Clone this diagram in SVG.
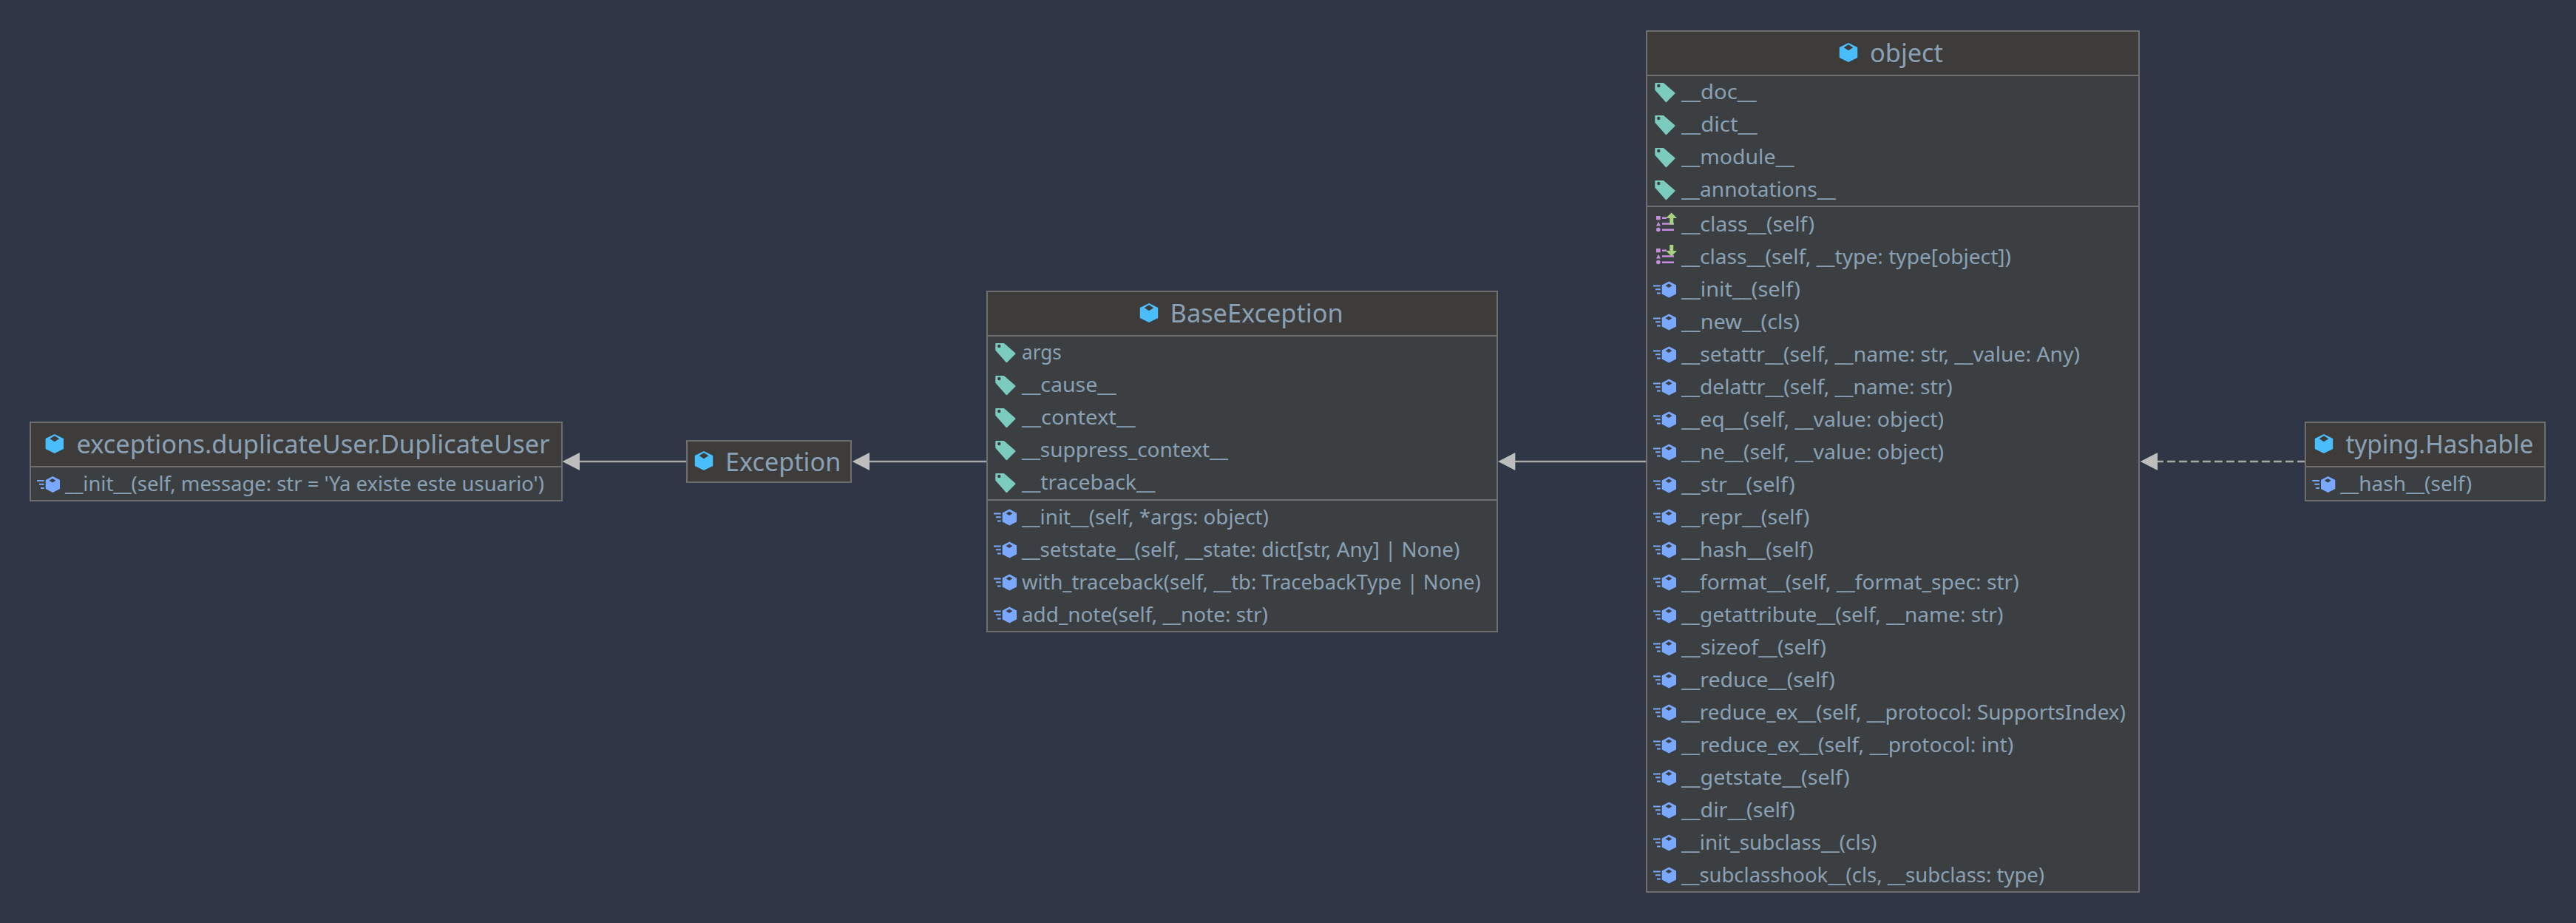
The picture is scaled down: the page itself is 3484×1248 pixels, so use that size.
<svg xmlns="http://www.w3.org/2000/svg" width="3484" height="1248" viewBox="0 0 3484 1248">
<style>
text{font-family:"Noto Sans","Open Sans","DejaVu Sans",sans-serif;fill:#8aa1b5}
.t{font-size:35px}
.r{font-size:28px}
.box{fill:#3c3f41;stroke:#6e6e6e;stroke-width:2}
.head{fill:#3d3c3b}
.sep{stroke:#6e6e6e;stroke-width:2;fill:none}
.edge{stroke:#a8a8a8;stroke-width:2.5;fill:none}
.dash{stroke-dasharray:11 5}
.hd{fill:#bdbdbd}
</style>
<defs>
<g id="cube"><path d="M0,-13 L12.2,-7 V7 L0,13 L-12.2,7 V-7 Z" fill="#4abdfc"/><path d="M0,-10.7 L6.3,-6.7 L0,-2.7 L-6.3,-6.7 Z" fill="#3d3c3b"/></g>
<g id="m"><path d="M-16.7,-20 L-7,-15 V-3 L-16.7,2 L-26.3,-3 V-15 Z" fill="#7aa7ff"/><path d="M-17,-17 L-12.5,-14.3 L-17,-11.6 L-21.5,-14.3 Z" fill="#3c3f41"/><path d="M-38,-14 H-28.3 M-35,-9.3 H-28.3 M-33,-4 H-28.3" stroke="#7aa7ff" stroke-width="2" fill="none"/></g>
<g id="a"><path d="M-34.7,-21 L-24.5,-21 L-9.5,-8 L-20.7,3.2 L-34.7,-12.7 Z" fill="#7ccbbf" stroke="#7ccbbf" stroke-width="2" stroke-linejoin="round"/><circle cx="-30.7" cy="-18" r="2.2" fill="#3c3f41"/></g>
<g id="list"><rect x="-34" y="-20.5" width="5.7" height="5.3" fill="#c58fe0"/><path d="M-31,-12.8 L-28,-7 H-34 Z" fill="#c58fe0"/><circle cx="-31.2" cy="-2" r="2.8" fill="#c58fe0"/><path d="M-26,-17.8 H-20 M-26,-10 H-10 M-26,-1.7 H-10" stroke="#c58fe0" stroke-width="2.6" fill="none"/></g>
<g id="get"><use href="#list"/><path d="M-13.3,-25 L-6,-17.5 H-10.8 V-9 H-15.8 V-17.5 H-21 Z" fill="#a7d17e"/></g>
<g id="set"><use href="#list"/><path d="M-13.3,-10 L-6,-17.5 H-10.8 V-25.5 H-15.8 V-17.5 H-21 Z" fill="#a7d17e"/></g>
<path id="arrow" d="M0,0 L23.3,-12 V12 Z"/>
</defs>
<rect width="3484" height="1248" fill="#2f3746"/>
<g id="connectors">
<path class="edge" d="M784,624 H929"/><use href="#arrow" class="hd" x="760.7" y="624"/>
<path class="edge" d="M1176,624 H1335"/><use href="#arrow" class="hd" x="1152.7" y="624"/>
<path class="edge" d="M2049,624 H2227"/><use href="#arrow" class="hd" x="2026" y="624"/>
<path class="edge dash" d="M3118,624 H2918"/><use href="#arrow" class="hd" x="2894.8" y="624"/>
</g>
<g id="node-duplicate-user">
<rect class="box" x="41" y="571" width="719" height="106"/>
<rect class="head" x="42" y="572" width="717" height="59"/>
<path class="sep" d="M41,631 H760"/>
<use href="#cube" x="73.8" y="600"/>
<text class="t" x="103.4" y="613.3" textLength="640" lengthAdjust="spacingAndGlyphs">exceptions.duplicateUser.DuplicateUser</text>
<use href="#m" x="88" y="664"/>
<text class="r" x="88" y="664" textLength="648" lengthAdjust="spacingAndGlyphs">__init__(self, message: str = 'Ya existe este usuario')</text>
</g>
<g id="node-exception">
<rect class="box head" x="929" y="596" width="222" height="56"/>
<use href="#cube" x="952" y="623"/>
<text class="t" x="981" y="636.7" textLength="156.3" lengthAdjust="spacingAndGlyphs">Exception</text>
</g>
<g id="node-base-exception">
<rect class="box" x="1335" y="394" width="690" height="460"/>
<rect class="head" x="1336" y="395" width="688" height="59"/>
<path class="sep" d="M1335,454 H2025 M1335,676 H2025"/>
<use href="#cube" x="1554" y="423"/>
<text class="t" x="1582.6" y="436" textLength="234" lengthAdjust="spacingAndGlyphs">BaseException</text>
<use href="#a" x="1382" y="486"/><text class="r" x="1382" y="486" textLength="53.7" lengthAdjust="spacingAndGlyphs">args</text>
<use href="#a" x="1382" y="530"/><text class="r" x="1382" y="530" textLength="127.6" lengthAdjust="spacingAndGlyphs">__cause__</text>
<use href="#a" x="1382" y="574"/><text class="r" x="1382" y="574" textLength="153.8" lengthAdjust="spacingAndGlyphs">__context__</text>
<use href="#a" x="1382" y="618"/><text class="r" x="1382" y="618" textLength="279" lengthAdjust="spacingAndGlyphs">__suppress_context__</text>
<use href="#a" x="1382" y="662"/><text class="r" x="1382" y="662" textLength="180.4" lengthAdjust="spacingAndGlyphs">__traceback__</text>
<use href="#m" x="1382" y="708.5"/><text class="r" x="1382" y="708.5" textLength="333.8" lengthAdjust="spacingAndGlyphs">__init__(self, *args: object)</text>
<use href="#m" x="1382" y="752.5"/><text class="r" x="1382" y="752.5" textLength="592.3" lengthAdjust="spacingAndGlyphs">__setstate__(self, __state: dict[str, Any] | None)</text>
<use href="#m" x="1382" y="796.5"/><text class="r" x="1382" y="796.5" textLength="620.7" lengthAdjust="spacingAndGlyphs">with_traceback(self, __tb: TracebackType | None)</text>
<use href="#m" x="1382" y="840.5"/><text class="r" x="1382" y="840.5" textLength="332.9" lengthAdjust="spacingAndGlyphs">add_note(self, __note: str)</text>
</g>
<g id="node-object">
<rect class="box" x="2227" y="42" width="666" height="1164"/>
<rect class="head" x="2228" y="43" width="664" height="59"/>
<path class="sep" d="M2227,102 H2893 M2227,279 H2893"/>
<use href="#cube" x="2500" y="71"/>
<text class="t" x="2529" y="84" textLength="99" lengthAdjust="spacingAndGlyphs">object</text>
<use href="#a" x="2274" y="134"/><text class="r" x="2274" y="134" textLength="101.7" lengthAdjust="spacingAndGlyphs">__doc__</text>
<use href="#a" x="2274" y="178"/><text class="r" x="2274" y="178" textLength="102.7" lengthAdjust="spacingAndGlyphs">__dict__</text>
<use href="#a" x="2274" y="222"/><text class="r" x="2274" y="222" textLength="152.7" lengthAdjust="spacingAndGlyphs">__module__</text>
<use href="#a" x="2274" y="266"/><text class="r" x="2274" y="266" textLength="208.7" lengthAdjust="spacingAndGlyphs">__annotations__</text>
<use href="#get" x="2274" y="312.5"/><text class="r" x="2274" y="312.5" textLength="180" lengthAdjust="spacingAndGlyphs">__class__(self)</text>
<use href="#set" x="2274" y="356.5"/><text class="r" x="2274" y="356.5" textLength="446" lengthAdjust="spacingAndGlyphs">__class__(self, __type: type[object])</text>
<use href="#m" x="2274" y="400.5"/><text class="r" x="2274" y="400.5" textLength="161" lengthAdjust="spacingAndGlyphs">__init__(self)</text>
<use href="#m" x="2274" y="444.5"/><text class="r" x="2274" y="444.5" textLength="160" lengthAdjust="spacingAndGlyphs">__new__(cls)</text>
<use href="#m" x="2274" y="488.5"/><text class="r" x="2274" y="488.5" textLength="539" lengthAdjust="spacingAndGlyphs">__setattr__(self, __name: str, __value: Any)</text>
<use href="#m" x="2274" y="532.5"/><text class="r" x="2274" y="532.5" textLength="366.7" lengthAdjust="spacingAndGlyphs">__delattr__(self, __name: str)</text>
<use href="#m" x="2274" y="576.5"/><text class="r" x="2274" y="576.5" textLength="355" lengthAdjust="spacingAndGlyphs">__eq__(self, __value: object)</text>
<use href="#m" x="2274" y="620.5"/><text class="r" x="2274" y="620.5" textLength="355" lengthAdjust="spacingAndGlyphs">__ne__(self, __value: object)</text>
<use href="#m" x="2274" y="664.5"/><text class="r" x="2274" y="664.5" textLength="153.7" lengthAdjust="spacingAndGlyphs">__str__(self)</text>
<use href="#m" x="2274" y="708.5"/><text class="r" x="2274" y="708.5" textLength="173.3" lengthAdjust="spacingAndGlyphs">__repr__(self)</text>
<use href="#m" x="2274" y="752.5"/><text class="r" x="2274" y="752.5" textLength="178.7" lengthAdjust="spacingAndGlyphs">__hash__(self)</text>
<use href="#m" x="2274" y="796.5"/><text class="r" x="2274" y="796.5" textLength="456.7" lengthAdjust="spacingAndGlyphs">__format__(self, __format_spec: str)</text>
<use href="#m" x="2274" y="840.5"/><text class="r" x="2274" y="840.5" textLength="435.3" lengthAdjust="spacingAndGlyphs">__getattribute__(self, __name: str)</text>
<use href="#m" x="2274" y="884.5"/><text class="r" x="2274" y="884.5" textLength="196" lengthAdjust="spacingAndGlyphs">__sizeof__(self)</text>
<use href="#m" x="2274" y="928.5"/><text class="r" x="2274" y="928.5" textLength="207.7" lengthAdjust="spacingAndGlyphs">__reduce__(self)</text>
<use href="#m" x="2274" y="972.5"/><text class="r" x="2274" y="972.5" textLength="601" lengthAdjust="spacingAndGlyphs">__reduce_ex__(self, __protocol: SupportsIndex)</text>
<use href="#m" x="2274" y="1016.5"/><text class="r" x="2274" y="1016.5" textLength="449.3" lengthAdjust="spacingAndGlyphs">__reduce_ex__(self, __protocol: int)</text>
<use href="#m" x="2274" y="1060.5"/><text class="r" x="2274" y="1060.5" textLength="227.7" lengthAdjust="spacingAndGlyphs">__getstate__(self)</text>
<use href="#m" x="2274" y="1104.5"/><text class="r" x="2274" y="1104.5" textLength="153.7" lengthAdjust="spacingAndGlyphs">__dir__(self)</text>
<use href="#m" x="2274" y="1148.5"/><text class="r" x="2274" y="1148.5" textLength="264.3" lengthAdjust="spacingAndGlyphs">__init_subclass__(cls)</text>
<use href="#m" x="2274" y="1192.5"/><text class="r" x="2274" y="1192.5" textLength="491" lengthAdjust="spacingAndGlyphs">__subclasshook__(cls, __subclass: type)</text>
</g>
<g id="node-hashable">
<rect class="box" x="3118" y="571" width="324" height="106"/>
<rect class="head" x="3119" y="572" width="322" height="59"/>
<path class="sep" d="M3118,631 H3442"/>
<use href="#cube" x="3143" y="600"/>
<text class="t" x="3172.4" y="613.3" textLength="254" lengthAdjust="spacingAndGlyphs">typing.Hashable</text>
<use href="#m" x="3165.3" y="664"/>
<text class="r" x="3165.3" y="664" textLength="178" lengthAdjust="spacingAndGlyphs">__hash__(self)</text>
</g>
</svg>
